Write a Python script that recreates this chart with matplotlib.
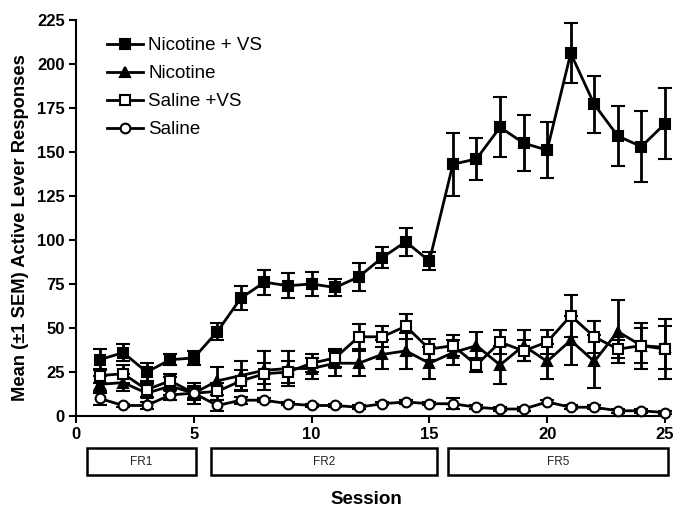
import matplotlib
matplotlib.use("Agg")
import matplotlib.pyplot as plt
import matplotlib.transforms as mtransforms
from matplotlib.patches import Rectangle
from matplotlib.lines import Line2D

plt.rcParams['font.family'] = ['Liberation Sans', 'DejaVu Sans']

sessions = list(range(1, 26))

nic_vs = [32, 36, 25, 32, 33, 48, 67, 76, 74, 75, 73, 79, 90, 99, 88,
          143, 146, 164, 155, 151, 206, 177, 159, 153, 166]
nic_vs_err = [6, 5, 5, 3, 4, 5, 7, 7, 7, 7, 5, 8, 6, 8, 5,
              18, 12, 17, 16, 16, 17, 16, 17, 20, 20]

nic = [18, 19, 13, 17, 13, 20, 23, 26, 27, 27, 30, 30, 35, 37, 30,
       36, 40, 29, 40, 31, 43, 31, 48, 40, 39]
nic_err = [5, 5, 5, 5, 6, 8, 8, 11, 10, 6, 7, 7, 8, 10, 9,
           7, 8, 11, 9, 10, 14, 15, 18, 13, 12]

sal_vs = [23, 24, 15, 20, 13, 14, 20, 24, 25, 30, 33, 45, 45, 51, 38,
          40, 29, 42, 37, 42, 57, 45, 38, 40, 38]
sal_vs_err = [4, 5, 4, 4, 4, 5, 6, 6, 6, 5, 5, 7, 6, 7, 6,
              6, 4, 7, 6, 7, 12, 9, 5, 10, 17]

sal = [10, 6, 6, 12, 13, 6, 9, 9, 7, 6, 6, 5, 7, 8, 7,
       7, 5, 4, 4, 8, 5, 5, 3, 3, 2]
sal_err = [4, 1, 2, 3, 3, 3, 2, 1, 1, 1, 1, 1, 1, 1, 1,
           3, 1, 1, 1, 1, 1, 1, 1, 1, 1]

labels = ['Nicotine + VS', 'Nicotine', 'Saline +VS', 'Saline']
phase_names = ['FR1', 'FR2', 'FR5']
phase_start = [0.45, 5.72, 15.8]
phase_end = [5.1, 15.32, 25.15]

fig = plt.figure(figsize=(6.73, 5.08), dpi=100)
ax = fig.add_axes([0.113, 0.181, 0.875, 0.780])

series = [
    (nic_vs, nic_vs_err, 's', 'black'),
    (nic, nic_err, '^', 'black'),
    (sal_vs, sal_vs_err, 's', 'white'),
    (sal, sal_err, 'o', 'white'),
]
handles = []
for (vals, errs, mk, fc), lab in zip(series, labels):
    ax.errorbar(sessions, vals, yerr=errs, color='black', marker=mk,
                markerfacecolor=fc, markeredgecolor='black', markersize=7,
                markeredgewidth=1.5, linewidth=2, elinewidth=2, capsize=5,
                capthick=2, clip_on=False, zorder=3)
    handles.append(Line2D([], [], color='black', marker=mk,
                          markerfacecolor=fc, markeredgecolor='black',
                          markersize=7, markeredgewidth=1.5, linewidth=2,
                          label=lab))

ax.set_xlim(0, 25)
ax.set_ylim(0, 225)
ax.set_xticks([0, 5, 10, 15, 20, 25])
ax.set_yticks([0, 25, 50, 75, 100, 125, 150, 175, 200, 225])
for s in ['top', 'right']:
    ax.spines[s].set_visible(False)
for s in ['left', 'bottom']:
    ax.spines[s].set_linewidth(1.5)
ax.tick_params(width=1.5, length=5, labelsize=12, pad=3)
for t in ax.get_xticklabels() + ax.get_yticklabels():
    t.set_fontweight('bold')

fig.text(0.030, 0.552, 'Mean (\u00b11 SEM) Active Lever Responses',
         rotation=90, ha='center', va='center', fontsize=13.2,
         fontweight='bold')

trans = mtransforms.blended_transform_factory(ax.transData, ax.transAxes)
for name, a, b in zip(phase_names, phase_start, phase_end):
    r = Rectangle((a, -0.149), b - a, 0.068, transform=trans, fill=False,
                  edgecolor='black', linewidth=1.8, clip_on=False)
    ax.add_patch(r)
    ax.text((a + b) / 2, -0.115, name, transform=trans, ha='center',
            va='center', fontsize=8.5, color='#222222')

fig.text(0.545, 0.016, 'Session', ha='center', va='center',
         fontsize=13.5, fontweight='bold')

ax.legend(handles=handles, loc='upper left', bbox_to_anchor=(0.04, 0.975),
          borderaxespad=0, frameon=False, fontsize=13.5, handlelength=1.9,
          handletextpad=0.3, labelspacing=0.58)

fig.savefig('out.png', dpi=100)
